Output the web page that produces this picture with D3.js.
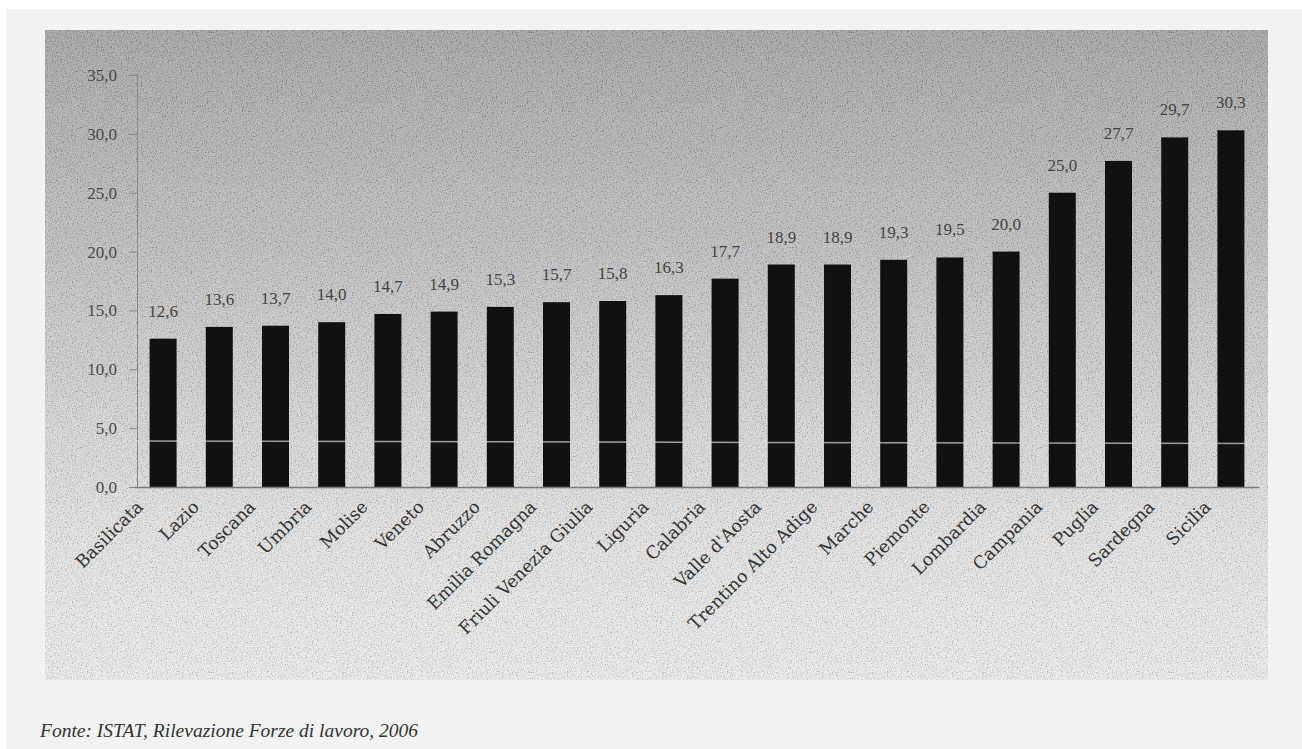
<!DOCTYPE html>
<html>
<head>
<meta charset="utf-8">
<script src="https://cdn.jsdelivr.net/npm/d3@7"></script>
<style>
  html, body { margin: 0; padding: 0; background: #ffffff; }
  svg { display: block; }
</style>
</head>
<body>
<svg id="chart" width="1302" height="749"></svg>
<script>
// ---- data ----
const regions = ["Basilicata", "Lazio", "Toscana", "Umbria", "Molise", "Veneto", "Abruzzo",
  "Emilia Romagna", "Friuli Venezia Giulia", "Liguria", "Calabria", "Valle d'Aosta",
  "Trentino Alto Adige", "Marche", "Piemonte", "Lombardia", "Campania", "Puglia", "Sardegna", "Sicilia"];
const values = [12.6, 13.6, 13.7, 14.0, 14.7, 14.9, 15.3, 15.7, 15.8, 16.3, 17.7, 18.9,
  18.9, 19.3, 19.5, 20.0, 25.0, 27.7, 29.7, 30.3];
const yTicks = [0, 5, 10, 15, 20, 25, 30, 35];
const sourceNote = "Fonte: ISTAT, Rilevazione Forze di lavoro, 2006";

const data = regions.map((r, i) => ({ region: r, value: values[i] }));
const fmt = v => d3.format(".1f")(v).replace(".", ",");

const svg = d3.select("#chart");
const defs = svg.append("defs");

const grad = defs.append("linearGradient").attr("id", "bg").attr("x1", 0).attr("y1", 0).attr("x2", 0).attr("y2", 1);
grad.append("stop").attr("offset", "0").attr("stop-color", "#a2a2a2");
grad.append("stop").attr("offset", "0.4").attr("stop-color", "#c4c4c4");
grad.append("stop").attr("offset", "0.75").attr("stop-color", "#e4e4e4");
grad.append("stop").attr("offset", "1").attr("stop-color", "#f0f0f0");

const noise = defs.append("filter").attr("id", "noise").attr("x", 0).attr("y", 0).attr("width", "100%").attr("height", "100%");
noise.append("feTurbulence").attr("type", "fractalNoise").attr("baseFrequency", 0.8).attr("numOctaves", 2).attr("seed", 3).attr("result", "t");
noise.append("feColorMatrix").attr("in", "t").attr("type", "matrix")
  .attr("values", "2.2 0 0 0 -0.6  2.2 0 0 0 -0.6  2.2 0 0 0 -0.6  0 0 0 0 0.2");

// page background
svg.append("rect").attr("x", 6).attr("y", 9).attr("width", 1296).attr("height", 740).attr("fill", "#f2f2f2");

// chart panel
svg.append("rect").attr("x", 45).attr("y", 30).attr("width", 1223).attr("height", 650).attr("fill", "url(#bg)");
svg.append("rect").attr("x", 45).attr("y", 30).attr("width", 1223).attr("height", 650)
  .attr("filter", "url(#noise)");

// scales
const x = d3.scaleBand().domain(regions).range([135, 1259]).paddingInner(0.52).paddingOuter(0.26);
const y = d3.scaleLinear().domain([0, 35]).range([487, 75]);

// y axis
const yAxis = svg.append("g").attr("transform", "translate(137,0)")
  .call(d3.axisLeft(y).tickValues(yTicks).tickFormat(fmt).tickSize(8).tickPadding(12));
yAxis.select(".domain").attr("stroke", "#8a8a8a").attr("stroke-width", 1);
yAxis.selectAll(".tick line").attr("stroke", "#8a8a8a");
yAxis.selectAll(".tick text").attr("font-family", "Liberation Serif, serif").attr("font-size", 17)
  .attr("fill", "#4a4a4a");

// bars
svg.append("g").selectAll("rect").data(data).join("rect")
  .attr("x", d => x(d.region))
  .attr("y", d => y(d.value))
  .attr("width", x.bandwidth())
  .attr("height", d => y(0) - y(d.value))
  .attr("fill", "#111111");

// light scan line across bars
svg.append("line").attr("x1", 137).attr("x2", 1258).attr("y1", y(3.9)).attr("y2", y(3.7))
  .attr("stroke", "#d8d8d8").attr("stroke-width", 1.5).attr("opacity", 0.7);

// x axis
const xAxis = svg.append("g").attr("transform", `translate(0,${y(0)})`)
  .call(d3.axisBottom(x).tickSize(0).tickFormat(""));
xAxis.select(".domain").attr("stroke", "#7a7a7a").attr("stroke-width", 1.5);

// value labels
svg.append("g").selectAll("text").data(data).join("text")
  .attr("x", d => x(d.region) + x.bandwidth() / 2)
  .attr("y", d => y(d.value) - 22)
  .attr("text-anchor", "middle")
  .attr("font-family", "Liberation Serif, serif").attr("font-size", 17)
  .attr("fill", "#444")
  .text(d => fmt(d.value));

// category labels
svg.append("g").selectAll("text").data(data).join("text")
  .attr("transform", d => `translate(${x(d.region) + x.bandwidth() / 2 - 19},${y(0) + 21}) rotate(-45)`)
  .attr("text-anchor", "end")
  .attr("font-family", "DejaVu Serif, serif").attr("font-size", 17.5)
  .attr("fill", "#333")
  .text(d => d.region);

// source note
svg.append("text").attr("x", 40).attr("y", 737)
  .attr("font-family", "Liberation Serif, serif").attr("font-style", "italic").attr("font-size", 19.5)
  .attr("fill", "#333")
  .text(sourceNote);
</script>
</body>
</html>
